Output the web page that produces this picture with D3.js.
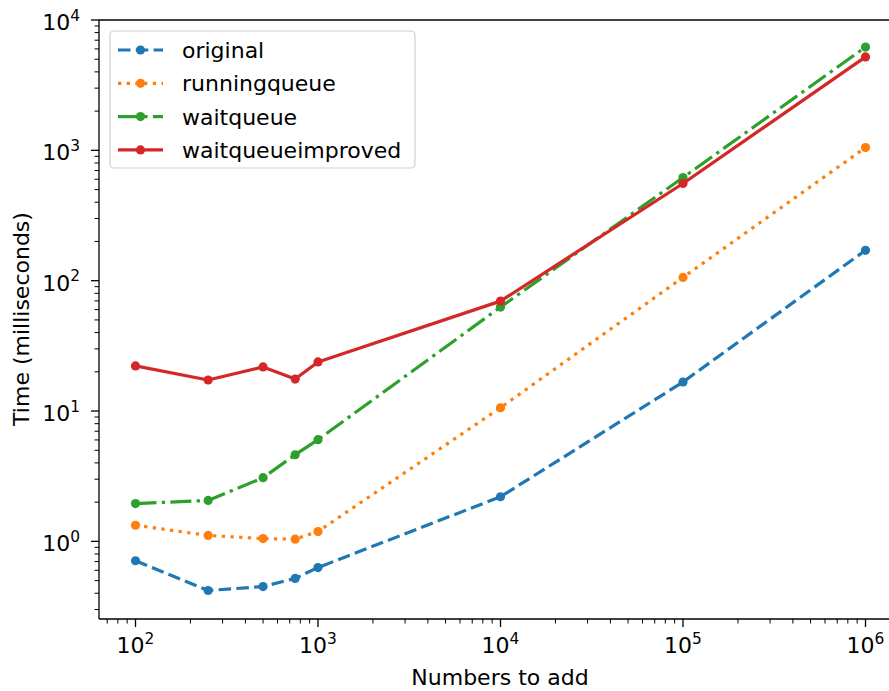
<!DOCTYPE html>
<html>
<head>
<meta charset="utf-8">
<script src="https://cdn.jsdelivr.net/npm/d3@7"></script>
<style>
  body { margin: 0; background: #fff; }
  svg { display: block; font-family: "DejaVu Sans", sans-serif; }
</style>
</head>
<body>
<div id="chart"></div>
<script>
// numbers added in each run
var sizes = [100, 250, 500, 750, 1000, 10000, 100000, 1000000];

// time in milliseconds
var original = [0.71, 0.42, 0.45, 0.52, 0.63, 2.2, 16.7, 171];
var runningqueue = [1.33, 1.11, 1.05, 1.04, 1.19, 10.6, 106, 1050];
var waitqueue = [1.95, 2.06, 3.08, 4.62, 6.03, 62.7, 619, 6200];
var waitqueueimproved = [22.2, 17.3, 21.8, 17.6, 23.8, 69.7, 557, 5210];

var seriesNames = ["original", "runningqueue", "waitqueue", "waitqueueimproved"];
var seriesValues = [original, runningqueue, waitqueue, waitqueueimproved];
var colors = ["#1f77b4", "#ff7f0e", "#2ca02c", "#d62728"];
var dashes = ["12.5,5.3", "3.3,5.4", "21,5.3,3.3,5.3", null];

var xTickExps = [2, 3, 4, 5, 6];
var yTickExps = [0, 1, 2, 3, 4];

(function() {
    var W = 889, H = 691,
        pLeft = 99, pRight = 902, pTop = 20, pBottom = 619,
        fontSize = 22, lw = 3.2, mr = 4.6;

    var svg = d3.select("#chart").append("svg")
        .attr("width", W)
        .attr("height", H);

    var x = d3.scaleLog()
        .domain([Math.pow(10, 1.8), Math.pow(10, 6.2)])
        .range([pLeft, pRight]);

    var y = d3.scaleLog()
        .domain([Math.pow(10, -0.5955), Math.pow(10, 4)])
        .range([pBottom, pTop]);

    // minor ticks: 2..9 in each decade
    function minors(scale) {
        var d = scale.domain(), out = [];
        for (var e = -2; e <= 7; ++e) {
            for (var m = 2; m <= 9; ++m) {
                var v = m * Math.pow(10, e);
                if (v >= d[0] && v <= d[1]) out.push(v);
            }
        }
        return out;
    }

    var g = svg.append("g");

    // x ticks
    g.selectAll(".xminor").data(minors(x)).enter().append("line")
        .attr("x1", function(d) { return x(d); })
        .attr("x2", function(d) { return x(d); })
        .attr("y1", pBottom).attr("y2", pBottom + 4.5)
        .attr("stroke", "#000").attr("stroke-width", 1);

    g.selectAll(".xmajor").data(xTickExps).enter().append("line")
        .attr("x1", function(d) { return x(Math.pow(10, d)); })
        .attr("x2", function(d) { return x(Math.pow(10, d)); })
        .attr("y1", pBottom).attr("y2", pBottom + 8)
        .attr("stroke", "#000").attr("stroke-width", 1.3);

    // y ticks
    g.selectAll(".yminor").data(minors(y)).enter().append("line")
        .attr("y1", function(d) { return y(d); })
        .attr("y2", function(d) { return y(d); })
        .attr("x1", pLeft).attr("x2", pLeft - 4.5)
        .attr("stroke", "#000").attr("stroke-width", 1);

    g.selectAll(".ymajor").data(yTickExps).enter().append("line")
        .attr("y1", function(d) { return y(Math.pow(10, d)); })
        .attr("y2", function(d) { return y(Math.pow(10, d)); })
        .attr("x1", pLeft).attr("x2", pLeft - 8)
        .attr("stroke", "#000").attr("stroke-width", 1.3);

    // tick labels as 10^n
    function powLabel(sel) {
        sel.append("tspan").text("10");
        sel.append("tspan")
            .attr("dy", -fontSize * 0.42)
            .style("font-size", (fontSize * 0.7) + "px")
            .text(function(d) { return d; });
    }

    g.selectAll(".xlab").data(xTickExps).enter().append("text")
        .attr("x", function(d) { return x(Math.pow(10, d)); })
        .attr("y", 653)
        .attr("text-anchor", "middle")
        .style("font-size", fontSize + "px")
        .call(powLabel);

    g.selectAll(".ylab").data(yTickExps).enter().append("text")
        .attr("x", 80)
        .attr("y", function(d) { return y(Math.pow(10, d)) + 10; })
        .attr("text-anchor", "end")
        .style("font-size", fontSize + "px")
        .call(powLabel);

    // axis titles
    svg.append("text")
        .attr("x", 500)
        .attr("y", 685)
        .attr("text-anchor", "middle")
        .style("font-size", fontSize + "px")
        .text("Numbers to add");

    svg.append("text")
        .attr("transform", "translate(29,319) rotate(-90)")
        .attr("text-anchor", "middle")
        .style("font-size", fontSize + "px")
        .text("Time (milliseconds)");

    // series
    var line = d3.line()
        .x(function(d, i) { return x(sizes[i]); })
        .y(function(d) { return y(d); });

    var plot = svg.append("g");

    seriesValues.forEach(function(vals, k) {
        plot.append("path")
            .datum(vals)
            .attr("d", line)
            .attr("fill", "none")
            .attr("stroke", colors[k])
            .attr("stroke-width", lw)
            .attr("stroke-linejoin", "round")
            .attr("stroke-dasharray", dashes[k]);
        plot.selectAll(".pt" + k).data(vals).enter().append("circle")
            .attr("cx", function(d, i) { return x(sizes[i]); })
            .attr("cy", function(d) { return y(d); })
            .attr("r", mr)
            .attr("fill", colors[k]);
    });

    // spines
    svg.append("line").attr("x1", pLeft).attr("x2", pLeft).attr("y1", pTop).attr("y2", pBottom)
        .attr("stroke", "#000").attr("stroke-width", 1.3);
    svg.append("line").attr("x1", pLeft).attr("x2", pRight).attr("y1", pBottom).attr("y2", pBottom)
        .attr("stroke", "#000").attr("stroke-width", 1.3);
    svg.append("line").attr("x1", pLeft).attr("x2", pRight).attr("y1", pTop).attr("y2", pTop)
        .attr("stroke", "#000").attr("stroke-width", 1.3);

    // legend
    var legend = svg.append("g");
    legend.append("rect")
        .attr("x", 110).attr("y", 31)
        .attr("width", 305).attr("height", 137)
        .attr("rx", 4)
        .attr("fill", "#fff").attr("fill-opacity", 0.8)
        .attr("stroke", "#d0d0d0").attr("stroke-width", 1.2);

    seriesNames.forEach(function(name, k) {
        var ly = 50 + k * 33.3;
        legend.append("line")
            .attr("x1", 118).attr("x2", 163)
            .attr("y1", ly).attr("y2", ly)
            .attr("stroke", colors[k])
            .attr("stroke-width", lw)
            .attr("stroke-dasharray", dashes[k]);
        legend.append("circle")
            .attr("cx", 140.5).attr("cy", ly).attr("r", mr)
            .attr("fill", colors[k]);
        legend.append("text")
            .attr("x", 182).attr("y", ly + 8)
            .style("font-size", fontSize + "px")
            .text(name);
    });
})();
</script>
</body>
</html>
